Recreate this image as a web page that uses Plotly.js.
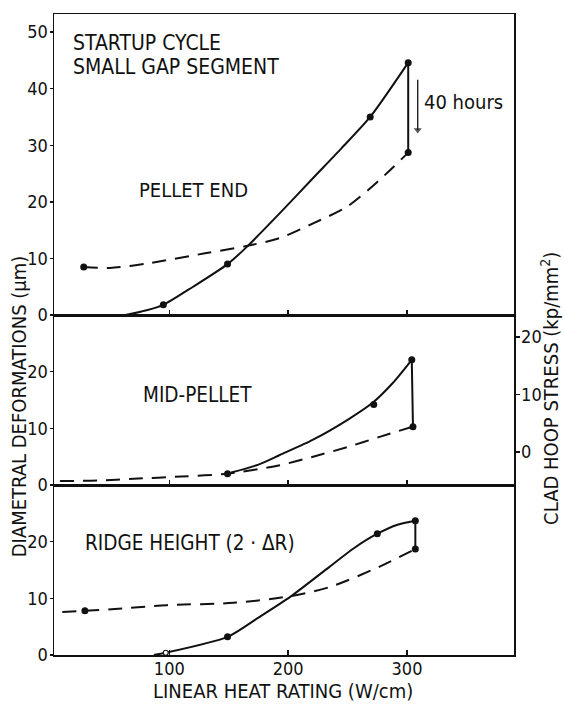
<!DOCTYPE html>
<html>
<head>
<meta charset="utf-8">
<script src="https://cdn.plot.ly/plotly-3.0.1.min.js"></script>
<style>html,body{margin:0;padding:0;background:#fff;}#chart{width:565px;height:704px;}</style>
</head>
<body>
<div id="chart"></div>
<script>
// ---- data ----
const xTickVals = [100, 200, 300];
const yTicksP1 = [0, 10, 20, 30, 40, 50];
const yTicksP23 = [0, 10, 20];
const stressTicks = [0, 10, 20];

// Panel 1: PELLET END
const p1SolidX = [63, 80, 95, 120, 149, 165, 193, 220, 245, 269, 301];
const p1SolidY = [0, 0.8, 1.8, 5.0, 9.0, 12.0, 18.0, 24.0, 29.5, 35.0, 44.6];
const p1DashX = [28, 50, 84, 130, 165, 193, 221, 250, 277, 301];
const p1DashY = [8.5, 8.3, 9.2, 10.9, 12.2, 13.6, 16.2, 19.2, 23.9, 28.7];
const p1DropX = [301, 301];
const p1DropY = [44.6, 28.7];
const p1PtsX = [28, 95, 149, 269, 301, 301];
const p1PtsY = [8.5, 1.8, 9.0, 35.0, 44.6, 28.7];
const arrowX = [309, 309];
const arrowY = [41.6, 32.7];

// Panel 2: MID-PELLET
const p2SolidX = [152, 175, 193, 221, 250, 271, 288, 304];
const p2SolidY = [2.2, 3.6, 5.3, 8.0, 11.5, 14.5, 18.0, 22.1];
const p2DashX = [8, 40, 70, 110, 149, 193, 221, 250, 277, 305];
const p2DashY = [0.7, 0.8, 1.1, 1.5, 2.0, 3.5, 5.0, 6.7, 8.5, 10.3];
const p2DropX = [304, 305];
const p2DropY = [22.1, 10.3];
const p2PtsX = [149, 272, 304, 305];
const p2PtsY = [2.0, 14.2, 22.1, 10.3];

// Panel 3: RIDGE HEIGHT
const p3SolidX = [87, 97, 149, 175, 202, 235, 255, 275, 292, 307];
const p3SolidY = [0, 0.4, 3.2, 6.6, 10.3, 15.6, 18.8, 21.4, 23.0, 23.7];
const p3DashX = [10, 29, 60, 98, 154, 202, 235, 277, 307];
const p3DashY = [7.6, 7.8, 8.2, 8.8, 9.2, 10.4, 12.0, 15.6, 18.7];
const p3DropX = [307, 307];
const p3DropY = [23.7, 18.7];
const p3PtsX = [29, 149, 275, 307, 307];
const p3PtsY = [7.8, 3.2, 21.4, 23.7, 18.7];
const p3OpenX = [97];
const p3OpenY = [0.4];

// ---- styles ----
const FONT = "'DejaVu Sans Condensed', 'Liberation Sans Narrow', sans-serif";
const BLACK = '#111';
const solid = {color: BLACK, width: 2, shape: 'spline', smoothing: 0.7};
const dashed = {color: BLACK, width: 2, dash: '14px,9px', shape: 'spline', smoothing: 0.8};
const drop = {color: BLACK, width: 2};
const dot = {color: BLACK, size: 7};

function tr(x, y, xa, ya, mode, line, marker) {
  const t = {x: x, y: y, xaxis: xa, yaxis: ya, mode: mode, hoverinfo: 'skip', showlegend: false};
  if (line) t.line = line;
  if (marker) t.marker = marker;
  return t;
}

const data = [
  tr(p1SolidX, p1SolidY, 'x', 'y', 'lines', solid),
  tr(p1DashX, p1DashY, 'x', 'y', 'lines', dashed),
  tr(p1DropX, p1DropY, 'x', 'y', 'lines', drop),
  tr(p1PtsX, p1PtsY, 'x', 'y', 'markers', null, dot),
  tr(p2SolidX, p2SolidY, 'x2', 'y2', 'lines', solid),
  tr(p2DashX, p2DashY, 'x2', 'y2', 'lines', dashed),
  tr(p2DropX, p2DropY, 'x2', 'y2', 'lines', drop),
  tr(p2PtsX, p2PtsY, 'x2', 'y2', 'markers', null, dot),
  tr(p3SolidX, p3SolidY, 'x3', 'y3', 'lines', solid),
  tr(p3DashX, p3DashY, 'x3', 'y3', 'lines', dashed),
  tr(p3DropX, p3DropY, 'x3', 'y3', 'lines', drop),
  tr(p3PtsX, p3PtsY, 'x3', 'y3', 'markers', null, dot),
  tr(p3OpenX, p3OpenY, 'x3', 'y3', 'markers', null, {color: '#fff', size: 5, line: {color: BLACK, width: 1.2}}),
  // "40 hours" arrow
  tr(arrowX, arrowY, 'x', 'y', 'lines+markers', {color: BLACK, width: 1.3},
     {symbol: ['line-ns', 'triangle-down'], size: [1, 7], color: BLACK, line: {width: 0}}),
  // stress axis carrier (no visible marks)
  {x: [], y: [], xaxis: 'x2', yaxis: 'y4', mode: 'markers', showlegend: false, hoverinfo: 'skip'}
];

const XR = [3, 390];
const TICKFONT = {family: FONT, size: 18, color: BLACK};
function xax(anchor, labels) {
  return {
    range: XR, anchor: anchor, tickvals: xTickVals, ticks: 'inside', ticklen: 5, tickwidth: 1.5,
    tickcolor: BLACK, showline: true, linecolor: BLACK, linewidth: 1.5, mirror: true,
    showgrid: false, zeroline: false, showticklabels: labels, ticklabelstandoff: -3,
    tickfont: TICKFONT, fixedrange: true
  };
}
function yax(domain, range, anchor, tickvals) {
  return {
    domain: domain, range: range, anchor: anchor, tickvals: tickvals, ticks: 'outside', ticklen: 3,
    tickwidth: 1.5, tickcolor: BLACK, showline: true, linecolor: BLACK, linewidth: 1.5, mirror: true,
    showgrid: false, zeroline: false, tickfont: TICKFONT, ticklabelstandoff: -2, fixedrange: true
  };
}

const d3 = [0, 0.2652], d2 = [0.2652, 0.5304], d1 = [0.5304, 1];

const ann = (text, x, y, xref, yref, size, extra) => Object.assign({
  text: text, x: x, y: y, xref: xref, yref: yref, showarrow: false,
  xanchor: 'left', yanchor: 'middle', font: {family: FONT, size: size, color: BLACK}
}, extra || {});

const layout = {
  width: 565, height: 704,
  margin: {l: 54, r: 51, t: 14, b: 49, pad: 0},
  paper_bgcolor: '#fff', plot_bgcolor: '#fff',
  xaxis: xax('y', false),
  xaxis2: xax('y2', false),
  xaxis3: xax('y3', true),
  yaxis: yax(d1, [0, 53.2], 'x', yTicksP1),
  yaxis2: yax(d2, [0, 30], 'x2', yTicksP23),
  yaxis3: yax(d3, [0, 30], 'x3', yTicksP23),
  yaxis4: {
    overlaying: 'y2', side: 'right', anchor: 'x2', range: [-5.74, 23.83], tickvals: stressTicks,
    ticks: 'outside', ticklen: 4, tickwidth: 1.5, tickcolor: BLACK, showline: true, linecolor: BLACK,
    linewidth: 1.5, showgrid: false, zeroline: false, ticklabelstandoff: -2,
    tickfont: TICKFONT, fixedrange: true
  },
  annotations: [
    ann('STARTUP CYCLE', 17, 48.1, 'x', 'y', 21),
    ann('SMALL GAP SEGMENT', 17, 43.9, 'x', 'y', 21),
    ann('PELLET END', 73, 22.1, 'x', 'y', 20),
    ann('MID-PELLET', 76, 15.9, 'x2', 'y2', 20.5),
    ann('RIDGE HEIGHT (2 · ΔR)', 27, 19.8, 'x3', 'y3', 20.5),
    ann('40 hours', 313, 37.7, 'x', 'y', 20),
    ann('LINEAR HEAT RATING (W/cm)', 0.498, -0.0555, 'paper', 'paper', 20, {xanchor: 'center'}),
    ann('DIAMETRAL DEFORMATIONS (µm)', -0.076, 0.388, 'paper', 'paper', 20, {xanchor: 'center', textangle: -90}),
    ann('CLAD HOOP STRESS (kp/mm<sup>2</sup>)', 1.078, 0.4165, 'paper', 'paper', 20, {xanchor: 'center', textangle: -90})
  ]
};

Plotly.newPlot('chart', data, layout, {staticPlot: true, displayModeBar: false});
</script>
</body>
</html>
